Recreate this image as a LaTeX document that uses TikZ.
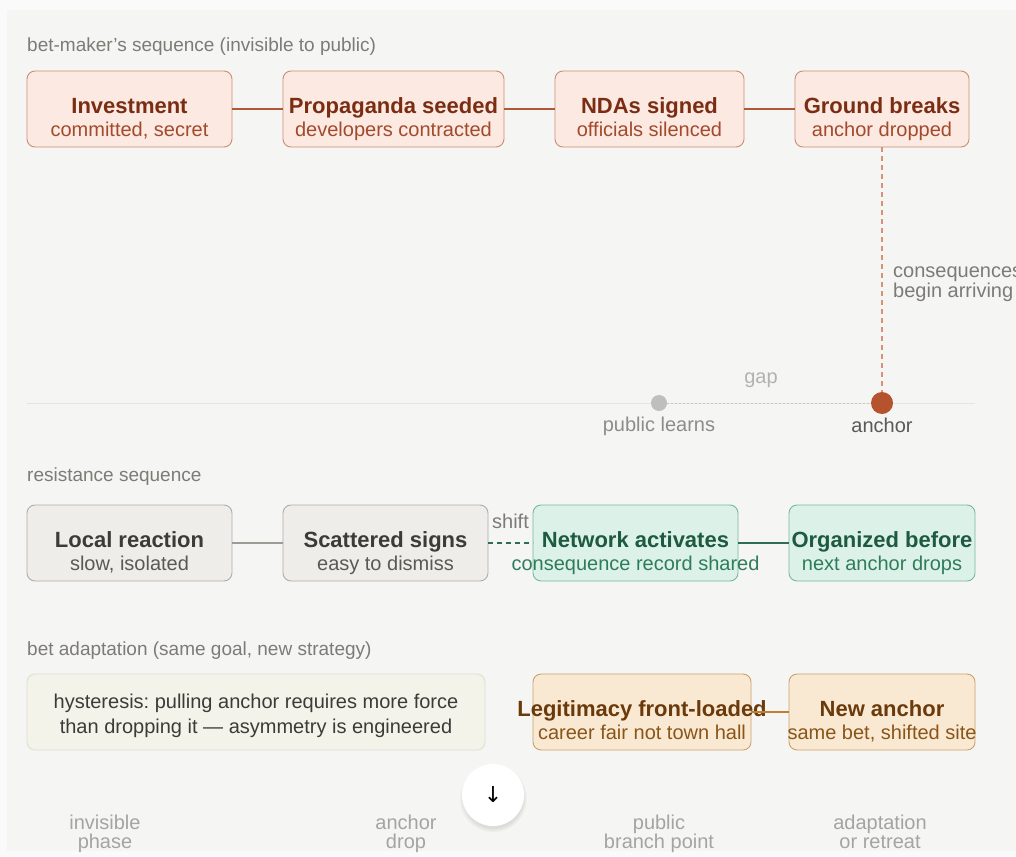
\documentclass[tikz,border=0pt]{standalone}
\usepackage{fontspec}
\setmainfont{Liberation Sans}
\newfontfamily\symfont{DejaVu Sans}
\usepackage{xcolor}
\usetikzlibrary{positioning,shadows}
\frenchspacing

\definecolor{outerbg}{HTML}{FAFAFA}
\definecolor{panelbg}{HTML}{F5F5F3}
\definecolor{labgray}{HTML}{7D7B76}
\definecolor{lightgray}{HTML}{A5A49F}
\definecolor{betfill}{HTML}{FBE9E2}
\definecolor{betline}{HTML}{D08C72}
\definecolor{bettitle}{HTML}{7A2D12}
\definecolor{betsub}{HTML}{A24A2B}
\definecolor{betlink}{HTML}{B0583A}
\definecolor{resfill}{HTML}{EFEDE9}
\definecolor{resline}{HTML}{B0ADA6}
\definecolor{reslink}{HTML}{9E9B95}
\definecolor{restitle}{HTML}{3D3B37}
\definecolor{ressub}{HTML}{5B5955}
\definecolor{netfill}{HTML}{DCF2E8}
\definecolor{netline}{HTML}{74B99C}
\definecolor{nettitle}{HTML}{1E5A40}
\definecolor{netsub}{HTML}{2F7C5B}
\definecolor{netlink}{HTML}{2F6D53}
\definecolor{hysfill}{HTML}{F3F3EA}
\definecolor{hysline}{HTML}{E0DFD4}
\definecolor{adafill}{HTML}{FAE9D2}
\definecolor{adaline}{HTML}{CAA06C}
\definecolor{adatitle}{HTML}{6A3A0C}
\definecolor{adasub}{HTML}{8A5518}
\definecolor{adalink}{HTML}{C2802E}
\definecolor{anchorred}{HTML}{B5532F}
\definecolor{dropline}{HTML}{D39377}

\newcommand{\cardtxt}[3]{\makebox[0pt]{\rule{0pt}{36pt}\color{#1}\fontsize{22}{23}\selectfont\bfseries #2}\\\makebox[0pt]{\rule[-5pt]{0pt}{5pt}#3}}
\newcommand{\phaselab}[2]{\rule{0pt}{15pt}#1\\#2\rule[-5pt]{0pt}{5pt}}

\tikzstyle{card}=[draw,rounded corners=8pt,line width=0.9pt,minimum height=76pt,inner sep=0pt,outer sep=0pt,align=center,font=\fontsize{20}{23}\selectfont]
\tikzstyle{bet}=[card,fill=betfill,draw=betline,text=betsub]
\tikzstyle{res}=[card,fill=resfill,draw=resline,text=ressub]
\tikzstyle{net}=[card,fill=netfill,draw=netline,text=netsub]
\tikzstyle{ada}=[card,fill=adafill,draw=adaline,text=adasub]
\tikzstyle{seclab}=[anchor=base west,inner sep=0pt,text=labgray,font=\fontsize{19}{20}\selectfont]
\tikzstyle{small}=[inner sep=0pt,text=lightgray,font=\fontsize{20}{20}\selectfont]
\tikzstyle{phase}=[inner sep=0pt,align=center,text=lightgray,font=\fontsize{20}{19}\selectfont]

\begin{document}
\begin{tikzpicture}[x=1pt,y=1pt]
        \useasboundingbox (0,0) rectangle (1016,-856);
        \fill[outerbg] (0,0) rectangle (1016,-856);
        \fill[panelbg] (7,-10) rectangle (1016,-851);

        % bet-maker row
        \node [seclab] (betlab) at (27,-52) {bet-maker's sequence (invisible to public)};
        \node [bet, minimum width=205pt, anchor=north west] (inv) at (27,-71) {\cardtxt{bettitle}{Investment}{committed, secret}};
        \node [bet, minimum width=221pt] (pro) [right=51pt of inv] {\cardtxt{bettitle}{Propaganda seeded}{developers contracted}};
        \node [bet, minimum width=189pt] (nda) [right=51pt of pro] {\cardtxt{bettitle}{NDAs signed}{officials silenced}};
        \node [bet, minimum width=174pt] (gro) [right=51pt of nda] {\cardtxt{bettitle}{Ground breaks}{anchor dropped}};
        \draw[betlink, line width=1.6pt] (inv) -- (pro);
        \draw[betlink, line width=1.6pt] (pro) -- (nda);
        \draw[betlink, line width=1.6pt] (nda) -- (gro);

        % time line
        \coordinate (axl) at (27,-403);
        \coordinate (axr) at (975,-403);
        \draw[black!10, line width=0.8pt] (axl) -- (axr);
        \node [circle, fill=black!25, minimum size=16pt, inner sep=0pt] (pub) at (659,-403) {};
        \node [circle, fill=anchorred, minimum size=22pt, inner sep=0pt] (anc) at (882,-403) {};
        \draw[black!22, line width=0.8pt, dash pattern=on 2pt off 2pt] (pub) -- (anc);
        \draw[dropline, line width=2pt, dash pattern=on 5pt off 4pt] (gro) -- (anc);
        \node [small, text=black!30, anchor=base] (gaplab) at (761,-383) {gap};
        \node [small, text=black!45] (publab) at (659,-426) {public learns};
        \node [small, text=black!65] (anclab) at (882,-425) {anchor};
        \node [small, text=labgray, anchor=west, align=left] (cons) at (893,-284) {consequences\\begin arriving};

        % resistance row
        \node [seclab] (reslab) at (27,-481) {resistance sequence};
        \node [res, minimum width=205pt, anchor=north west] (loc) at (27,-505) {\cardtxt{restitle}{Local reaction}{slow, isolated}};
        \node [res, minimum width=205pt] (sca) [right=51pt of loc] {\cardtxt{restitle}{Scattered signs}{easy to dismiss}};
        \node [net, minimum width=205pt] (net) [right=45pt of sca] {\cardtxt{nettitle}{Network activates}{consequence record shared}};
        \node [net, minimum width=186pt] (org) [right=51pt of net] {\cardtxt{nettitle}{Organized before}{next anchor drops}};
        \draw[reslink, line width=1.1pt] (loc) -- (sca);
        \draw[netlink, line width=1.5pt, dash pattern=on 5pt off 4pt] (sca) -- (net) node[small, text=labgray, above=14pt, pos=0.5] {shift};
        \draw[netlink, line width=2pt] (net) -- (org);

        % adaptation row
        \node [seclab] (adalab) at (27,-655) {bet adaptation (same goal, new strategy)};
        \node [card, fill=hysfill, draw=hysline, text=restitle, font=\fontsize{20}{25}\selectfont, minimum width=458pt, anchor=north west] (hys) at (27,-674) {\rule{0pt}{22pt}hysteresis: pulling anchor requires more force\\than dropping it — asymmetry is engineered};
        \node [ada, minimum width=218pt] (leg) [right=48pt of hys] {\cardtxt{adatitle}{Legitimacy front-loaded}{career fair not town hall}};
        \node [ada, minimum width=186pt] (new) [right=38pt of leg] {\cardtxt{adatitle}{New anchor}{same bet, shifted site}};
        \draw[adalink, line width=2pt] (leg) -- (new);

        % phases
        \node [phase] (ph1) at (105,-833.5) {\phaselab{invisible}{phase}};
        \node [phase] (ph2) at (406,-833.5) {\phaselab{anchor}{drop}};
        \node [phase] (ph3) at (659,-833.5) {\phaselab{public}{branch point}};
        \node [phase] (ph4) at (880,-833.5) {\phaselab{adaptation}{or retreat}};

        \node [circle, fill=white, minimum size=62pt, inner sep=0pt,
               circular drop shadow={shadow xshift=0pt,shadow yshift=-3pt,opacity=0.1,fill=black}] (scroll) at (493,-795) {\symfont\fontsize{22}{22}\selectfont ↓};
\end{tikzpicture}
\end{document}
